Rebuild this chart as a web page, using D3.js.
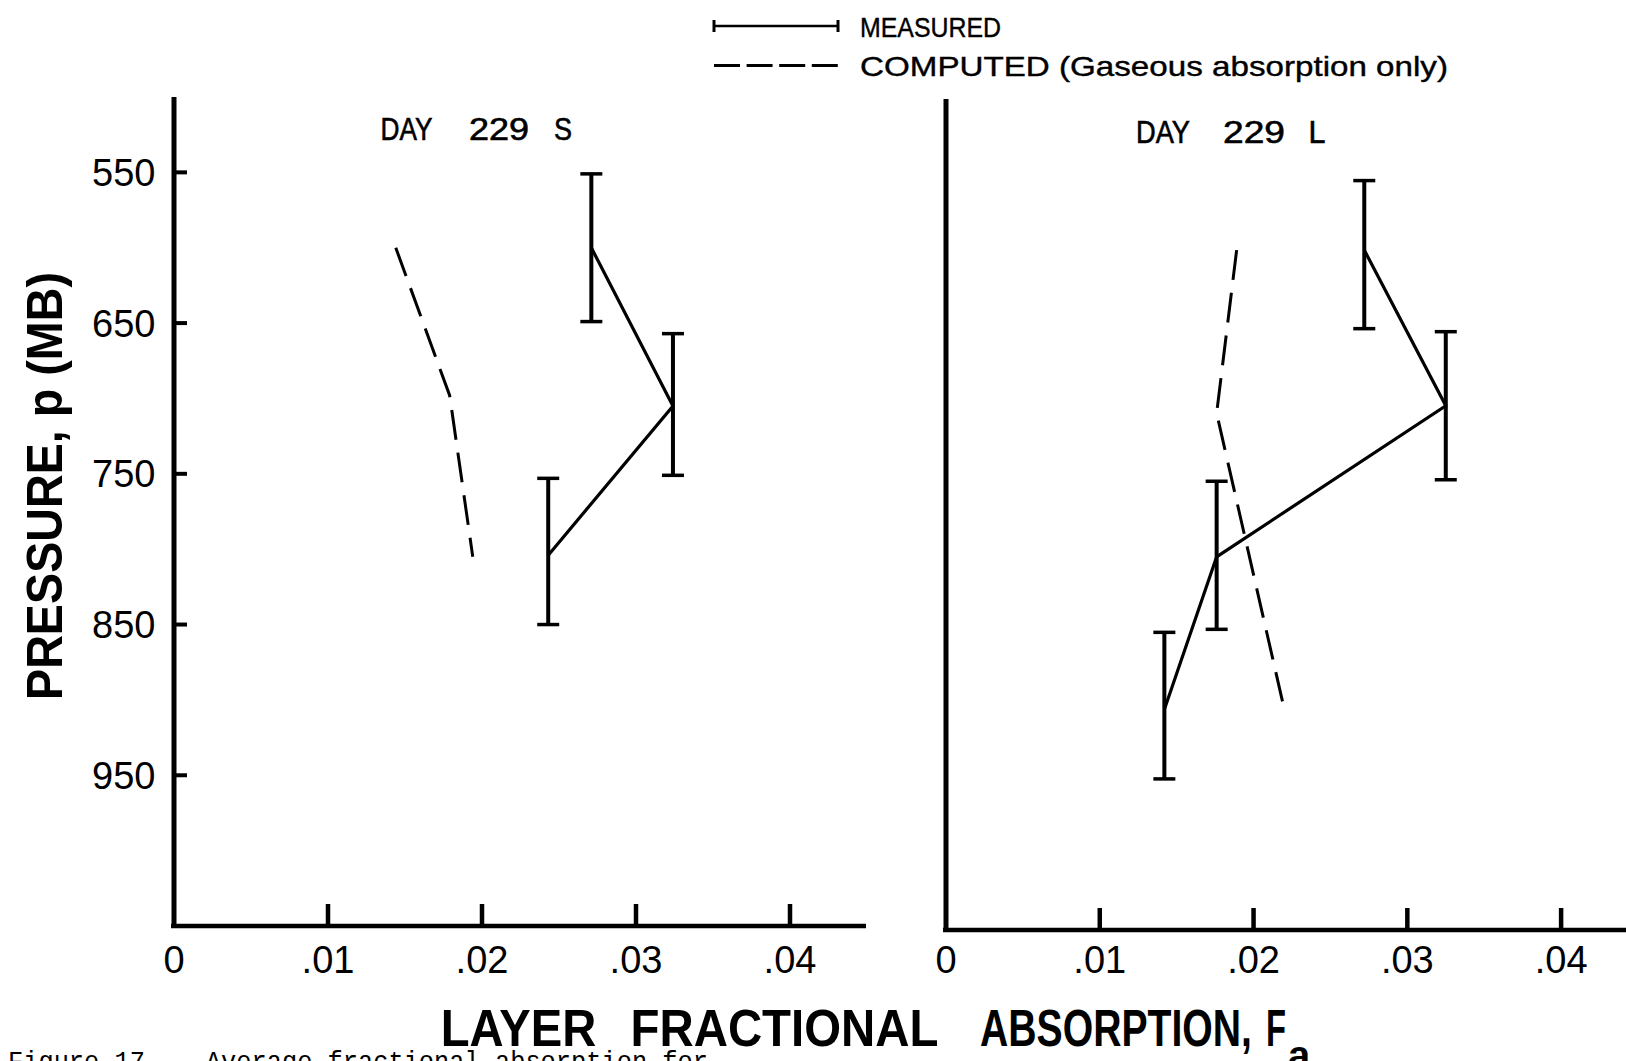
<!DOCTYPE html>
<html>
<head>
<meta charset="utf-8">
<script src="https://cdn.jsdelivr.net/npm/d3@7"></script>
<style>
  html, body { margin: 0; padding: 0; background: #fff; overflow: hidden; }
  svg { display: block; }
  text { font-family: "Liberation Sans", Arial, sans-serif; fill: #000; }
</style>
</head>
<body>
<svg id="chart" width="1626" height="1061"></svg>
<script>
// ---------- DATA ----------
const pressureTicks = [550, 650, 750, 850, 950];
const pressureTickLabels = ["550", "650", "750", "850", "950"];
const fracTicks = [0, 0.01, 0.02, 0.03, 0.04];
const fracTickLabels = ["0", ".01", ".02", ".03", ".04"];
const pressureDomain = [500, 1050];
const fracDomain = [0, 0.045];

// DAY 229 S (left panel)
const sPressure = [600, 705, 804];
const sMeasured = [0.0271, 0.0324, 0.0243];
const sErrLow = [551, 657, 753];
const sErrHigh = [649, 751, 850];
const sCompPressure = [600, 698, 805];
const sComputed = [0.0144, 0.0179, 0.0194];

// DAY 229 L (right panel)
const lPressure = [600, 703, 803, 904];
const lMeasured = [0.0272, 0.0325, 0.0176, 0.0142];
const lErrLow = [554, 654, 753, 853];
const lErrHigh = [652, 752, 851, 950];
const lCompPressure = [600, 708, 904];
const lComputed = [0.0189, 0.0176, 0.0220];

const legendLabels = ["MEASURED", "COMPUTED (Gaseous absorption only)"];
const xAxisTitleWords = ["LAYER", "FRACTIONAL", "ABSORPTION,", "F"];
const xAxisSub = "a";
const yAxisTitle = "PRESSURE, p (MB)";
const caption = "Figure 17.   Average fractional absorption for";

// ---------- LAYOUT ----------
const svg = d3.select("#chart");
svg.append("rect").attr("width", 1626).attr("height", 1061).attr("fill", "#fff");

const panels = [
  { title: ["DAY", "229", "S"], titleX: [380.5, 469, 554], titleW: [52, 60, 18], titleY: 139.5,
    xr: [174, 867], yr: [97, 926], yTicks: true, xEnd: 866,
    p: sPressure, m: sMeasured, lo: sErrLow, hi: sErrHigh, cp: sCompPressure, c: sComputed },
  { title: ["DAY", "229", "L"], titleX: [1136, 1223, 1308.5], titleW: [54, 62, 17], titleY: 142.5,
    xr: [946, 1638], yr: [99, 930], yTicks: false, xEnd: 1626,
    p: lPressure, m: lMeasured, lo: lErrLow, hi: lErrHigh, cp: lCompPressure, c: lComputed }
];

panels.forEach(pn => {
  const x = d3.scaleLinear().domain(fracDomain).range(pn.xr);
  const y = d3.scaleLinear().domain(pressureDomain).range(pn.yr);
  const g = svg.append("g");

  // y-axis line
  g.append("line")
    .attr("x1", x(0)).attr("x2", x(0))
    .attr("y1", y(pressureDomain[0])).attr("y2", y(pressureDomain[1]) + 2)
    .attr("stroke", "#000").attr("stroke-width", 5);
  // x-axis line
  g.append("line")
    .attr("x1", x(0) - 3).attr("x2", pn.xEnd)
    .attr("y1", y(pressureDomain[1])).attr("y2", y(pressureDomain[1]))
    .attr("stroke", "#000").attr("stroke-width", 4.5);

  // x ticks (upward)
  g.selectAll(".xt").data(fracTicks.filter(d => d > 0)).enter().append("line")
    .attr("x1", d => x(d)).attr("x2", d => x(d))
    .attr("y1", y(pressureDomain[1])).attr("y2", y(pressureDomain[1]) - 22)
    .attr("stroke", "#000").attr("stroke-width", 4.5);
  // x tick labels
  g.selectAll(".xl").data(fracTicks).enter().append("text")
    .attr("x", d => x(d)).attr("y", 973)
    .attr("text-anchor", "middle")
    .attr("font-size", 38)
    .text((d, i) => fracTickLabels[i]);

  if (pn.yTicks) {
    g.selectAll(".yt").data(pressureTicks).enter().append("line")
      .attr("x1", x(0)).attr("x2", x(0) + 13)
      .attr("y1", d => y(d)).attr("y2", d => y(d))
      .attr("stroke", "#000").attr("stroke-width", 4);
    g.selectAll(".yl").data(pressureTicks).enter().append("text")
      .attr("x", 155.5).attr("y", d => y(d))
      .attr("dy", "0.36em")
      .attr("text-anchor", "end")
      .attr("font-size", 38)
      .text((d, i) => pressureTickLabels[i]);
  }

  // panel title
  pn.title.forEach((t, i) => {
    g.append("text")
      .attr("x", pn.titleX[i]).attr("y", pn.titleY)
      .attr("font-size", 31)
      .attr("stroke", "#000").attr("stroke-width", 0.6)
      .attr("textLength", pn.titleW[i])
      .attr("lengthAdjust", "spacingAndGlyphs")
      .text(t);
  });

  // computed (dashed)
  const comp = pn.cp.map((p, i) => [pn.c[i], p]);
  g.append("path")
    .attr("d", d3.line().x(d => x(d[0])).y(d => y(d[1]))(comp))
    .attr("fill", "none").attr("stroke", "#000")
    .attr("stroke-width", 3).attr("stroke-dasharray", "30,13");

  // measured line
  const meas = pn.p.map((p, i) => [pn.m[i], p]);
  g.append("path")
    .attr("d", d3.line().x(d => x(d[0])).y(d => y(d[1]))(meas))
    .attr("fill", "none").attr("stroke", "#000")
    .attr("stroke-width", 3.2).attr("stroke-linejoin", "miter");

  // error bars
  pn.p.forEach((p, i) => {
    const cx = x(pn.m[i]);
    g.append("line").attr("x1", cx).attr("x2", cx)
      .attr("y1", y(pn.lo[i])).attr("y2", y(pn.hi[i]))
      .attr("stroke", "#000").attr("stroke-width", 4);
    [pn.lo[i], pn.hi[i]].forEach(v => {
      g.append("line").attr("x1", cx - 11).attr("x2", cx + 11)
        .attr("y1", y(v)).attr("y2", y(v))
        .attr("stroke", "#000").attr("stroke-width", 3.5);
    });
  });
});

// ---------- LEGEND ----------
const lg = svg.append("g");
lg.append("line").attr("x1", 714).attr("x2", 838).attr("y1", 26).attr("y2", 26)
  .attr("stroke", "#000").attr("stroke-width", 2.5);
[714, 838].forEach(xx => {
  lg.append("line").attr("x1", xx).attr("x2", xx).attr("y1", 20).attr("y2", 32)
    .attr("stroke", "#000").attr("stroke-width", 3);
});
lg.append("line").attr("x1", 714).attr("x2", 838).attr("y1", 65.5).attr("y2", 65.5)
  .attr("stroke", "#000").attr("stroke-width", 3).attr("stroke-dasharray", "26,6.6");
lg.append("text").attr("x", 860).attr("y", 36.5).attr("font-size", 28)
  .attr("stroke", "#000").attr("stroke-width", 0.4)
  .attr("textLength", 141).attr("lengthAdjust", "spacingAndGlyphs").text(legendLabels[0]);
lg.append("text").attr("x", 860).attr("y", 76).attr("font-size", 28)
  .attr("stroke", "#000").attr("stroke-width", 0.4)
  .attr("textLength", 588).attr("lengthAdjust", "spacingAndGlyphs")
  .style("white-space", "pre").text(legendLabels[1]);

// ---------- AXIS TITLES ----------
svg.append("text")
  .attr("transform", "translate(62,700) rotate(-90)")
  .attr("font-size", 50).attr("font-weight", "bold")
  .attr("textLength", 428).attr("lengthAdjust", "spacingAndGlyphs")
  .text(yAxisTitle);

const xTitleX = [440.7, 630.5, 980, 1266];
const xTitleW = [155.5, 308, 272, 20];
const xt = svg.append("text")
  .attr("y", 1045.5)
  .attr("font-size", 52).attr("font-weight", "bold");
xAxisTitleWords.forEach((w, i) => {
  xt.append("tspan").attr("x", xTitleX[i])
    .attr("textLength", xTitleW[i]).attr("lengthAdjust", "spacingAndGlyphs")
    .text(w);
});
svg.append("text")
  .attr("x", 1288).attr("y", 1069)
  .attr("font-size", 40).attr("font-weight", "bold")
  .text(xAxisSub);

// ---------- CAPTION ----------
svg.append("text")
  .attr("x", 8).attr("y", 1070)
  .style("font-family", "'Liberation Mono', 'DejaVu Sans Mono', monospace")
  .style("white-space", "pre")
  .attr("font-size", 28)
  .attr("textLength", 700).attr("lengthAdjust", "spacingAndGlyphs")
  .text(caption);
</script>
</body>
</html>
